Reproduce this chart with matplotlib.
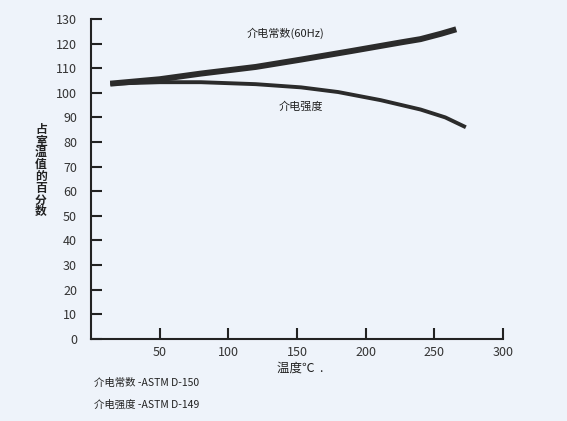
import matplotlib
matplotlib.use('Agg')
from matplotlib import pyplot as plt

plt.rcParams['font.family'] = ['Noto Sans CJK SC', 'DejaVu Sans']

# values (percent of room-temperature value)
temp_const = [14, 50, 80, 120, 153, 190, 226, 240, 255, 266]
dielectric_const = [103.7, 105.5, 107.8, 110.5, 113.5, 117, 120.5, 121.8, 124, 125.8]

temp_strength = [14, 50, 80, 120, 153, 180, 211, 240, 258, 273]
dielectric_strength = [103.7, 104.3, 104.3, 103.5, 102.2, 100.3, 97, 93.2, 90, 86]

x_ticks = [50, 100, 150, 200, 250, 300]
y_ticks = list(range(0, 131, 10))

bg = '#eef3fa'
ink = '#2b2b2b'

fig = plt.figure(figsize=(5.67, 4.21), dpi=100, facecolor=bg)
ax = fig.add_axes([0.1605, 0.195, 0.7265, 0.76])
ax.set_facecolor(bg)

ax.plot(temp_const, dielectric_const, color=ink, lw=4.3, solid_capstyle='butt')
ax.plot(temp_strength, dielectric_strength, color=ink, lw=2.8, solid_capstyle='butt')

ax.set_xlim(0, 300)
ax.set_ylim(0, 130)
ax.set_xticks(x_ticks)
ax.set_yticks(y_ticks)
ax.tick_params(direction='in', length=8, width=1.5, colors='#222222',
               labelsize=9, labelcolor='#333333')
ax.tick_params(axis='x', pad=5)
ax.tick_params(axis='y', pad=10)
for side in ['top', 'right']:
    ax.spines[side].set_visible(False)
for side in ['left', 'bottom']:
    ax.spines[side].set_linewidth(1.5)
    ax.spines[side].set_color('#222222')

ax.text(142, 124, '介电常数(60Hz)', fontsize=8, ha='center', va='center', color='#222222')
ax.text(153, 94.5, '介电强度', fontsize=8, ha='center', va='center', color='#222222')

fig.text(0.072, 0.595, '\n'.join('占室温值的百分数'), fontsize=8.5, ha='center', va='center',
         linespacing=0.88, color='#222222', fontweight='bold')
fig.text(0.53, 0.125, '温度℃  .', fontsize=9, ha='center', va='center', color='#222222')
fig.text(0.165, 0.09, '介电常数 -ASTM D-150', fontsize=7.5, ha='left', va='center', color='#222222')
fig.text(0.165, 0.038, '介电强度 -ASTM D-149', fontsize=7.5, ha='left', va='center', color='#222222')

plt.savefig('out.png', dpi=100, facecolor=bg)
